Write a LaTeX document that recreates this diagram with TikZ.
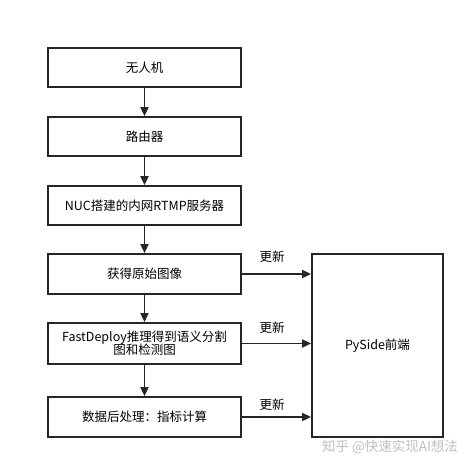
\documentclass[tikz,border=0pt]{standalone}
\usepackage{fontspec}
\setmainfont{Noto Sans CJK SC}
\usetikzlibrary{arrows.meta}
\begin{document}
\begin{tikzpicture}[x=1pt,y=-1pt,
  box/.style={draw=black!85,line width=1.8pt,fill=white,inner sep=2pt,align=center,font=\fontsize{12.5}{15}\selectfont},
  conn/.style={draw=black!85,line width=1.8pt,-{Triangle[length=9pt,width=8pt]}},
  lbl/.style={font=\fontsize{12.5}{15}\selectfont,inner sep=0pt}]
\useasboundingbox (0,0) rectangle (476,469);
\node[box,minimum width=193pt,minimum height=39pt] (n1) at (144.5,67.5) {无人机};
\node[box,minimum width=193pt,minimum height=39pt] (n2) at (144.5,136.5) {路由器};
\node[box,minimum width=193pt,minimum height=39pt] (n3) at (144.5,205.5) {NUC搭建的内网RTMP服务器};
\node[box,minimum width=193pt,minimum height=40pt] (n4) at (144.5,274) {获得原始图像};
\node[box,minimum width=193pt,minimum height=41pt] (n5) at (144.5,343.5) {FastDeploy推理得到语义分割\\[-2pt]图和检测图};
\node[box,minimum width=193pt,minimum height=40pt] (n6) at (144.5,417) {数据后处理：指标计算};
\node[box,minimum width=131pt,minimum height=183pt] (ps) at (377.5,345.5) {PySide前端};
\draw[conn] (n1) -- (n2);
\draw[conn] (n2) -- (n3);
\draw[conn] (n3) -- (n4);
\draw[conn] (n4) -- (n5);
\draw[conn] (n5) -- (n6);
\draw[conn] (n4.east) -- (n4.east -| ps.west);
\draw[conn] (n5.east) -- (n5.east -| ps.west);
\draw[conn] (n6.east) -- (n6.east -| ps.west);
\node[lbl] (u1) at (272,257) {更新};
\node[lbl] (u2) at (272,328) {更新};
\node[lbl] (u3) at (272,405) {更新};
\node[lbl,text=black!25,font=\fontsize{13.5}{15}\selectfont] (wm) at (390,447) {知乎 @快速实现AI想法};
\end{tikzpicture}
\end{document}
